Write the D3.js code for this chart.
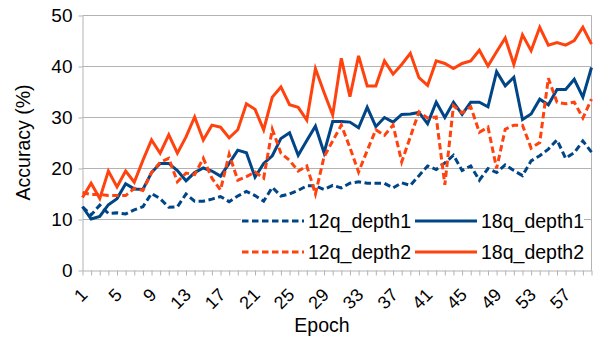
<!DOCTYPE html>
<html><head><meta charset="utf-8">
<script src="https://cdn.jsdelivr.net/npm/d3@7"></script>
<style>
html,body{margin:0;padding:0;background:#fff;}
svg{display:block;font-family:"Liberation Sans",Arial,sans-serif;}
</style></head>
<body><svg id="c" width="605" height="340"></svg>
<script>
const epochs = [1,2,3,4,5,6,7,8,9,10,11,12,13,14,15,16,17,18,19,20,21,22,23,24,25,26,27,28,29,30,31,32,33,34,35,36,37,38,39,40,41,42,43,44,45,46,47,48,49,50,51,52,53,54,55,56,57,58,59,60];
const xTickLabels = [1,5,9,13,17,21,25,29,33,37,41,45,49,53,57];
const yTicks = [0,10,20,30,40,50];
const seriesNames = ["12q_depth1","18q_depth1","12q_depth2","18q_depth2"];
const q12_depth1 = [12.4,10.8,12.7,11.1,11.2,11.0,11.8,12.4,15.0,14.0,12.3,12.4,14.9,13.5,13.5,13.9,14.4,13.4,14.5,15.4,14.6,13.5,16.2,14.5,14.9,15.6,16.5,16.5,15.8,16.6,16.1,17.0,17.3,17.0,17.0,17.0,16.1,17.1,16.6,18.5,20.4,19.7,21.0,22.5,19.5,20.4,17.6,19.9,19.1,20.6,19.5,18.5,21.4,22.4,23.7,25.5,21.9,23.0,25.3,23.1];
const q18_depth1 = [12.4,10.0,10.5,12.8,14.0,16.9,15.9,15.8,19.1,20.9,20.9,19.5,17.5,19.1,20.0,19.4,18.4,20.9,23.5,23.0,18.2,20.9,22.4,25.8,26.9,22.5,25.4,28.2,23.0,29.1,29.1,29.0,27.9,31.9,28.1,29.9,29.0,30.5,30.6,30.9,28.7,32.9,29.9,32.9,30.5,32.9,32.9,32.0,38.9,36.1,37.8,29.5,30.6,33.5,32.4,35.4,35.4,37.4,33.9,39.7];
const q12_depth2 = [15.2,14.8,14.8,14.6,14.6,14.6,16.0,15.6,19.1,21.1,21.9,17.3,19.0,18.7,21.9,18.0,15.7,22.7,17.6,18.3,19.2,18.0,27.6,22.9,21.5,19.4,20.4,14.9,22.2,25.3,28.4,24.0,19.2,23.4,27.5,26.4,28.4,21.2,26.1,31.0,29.8,30.0,16.7,32.2,30.8,32.0,27.0,28.0,19.9,27.6,28.4,28.4,23.9,25.0,37.6,32.9,32.6,32.9,29.8,33.5];
const q18_depth2 = [14.2,17.0,14.0,19.4,16.3,19.4,17.2,21.5,25.5,22.9,26.5,22.9,26.1,30.0,25.5,28.4,28.0,25.9,27.5,32.6,31.5,27.5,33.9,35.9,32.4,31.9,29.4,39.5,34.8,30.4,41.5,34.0,42.0,36.1,36.1,41.0,38.4,40.3,42.5,37.7,36.2,41.0,40.5,39.5,40.5,41.0,43.1,40.0,42.8,45.5,40.3,46.1,43.0,47.6,44.1,44.6,44.1,45.0,47.6,44.3];

const seriesValues = [q12_depth1, q18_depth1, q12_depth2, q18_depth2];
const seriesColor = ["#004586","#004586","#ff420e","#ff420e"];
const seriesDash = ["6.5,3.5",null,"6.5,3.5",null];

const svg = d3.select("#c");
const L = 82.5, R = 591.5, T = 15, B = 270;
const x = d3.scalePoint().domain(epochs).range([L, R]);
const y = d3.scaleLinear().domain([0,50]).range([B, T]);
const grid = "#b3b3b3";

// gridlines
svg.append("g").selectAll("line").data(yTicks.filter(d=>d>0)).join("line")
  .attr("x1", L).attr("x2", R)
  .attr("y1", d=>Math.round(y(d))+0.5).attr("y2", d=>Math.round(y(d))+0.5)
  .attr("stroke", grid).attr("stroke-width",1);
// right border
svg.append("line").attr("x1",R).attr("x2",R).attr("y1",Math.round(T)+0.5).attr("y2",B+0.5)
  .attr("stroke",grid);

// y axis
const yAxis = svg.append("g").attr("transform",`translate(${L},0.5)`)
  .call(d3.axisLeft(y).tickValues(yTicks).tickSize(4).tickPadding(6).tickSizeOuter(0));
yAxis.select(".domain").attr("stroke",grid);
yAxis.selectAll(".tick line").attr("stroke",grid);
yAxis.selectAll("text").attr("font-size",19).attr("fill","#000")
  .attr("font-family","'Liberation Sans',Arial,sans-serif");

// x axis
const xAxis = svg.append("g").attr("transform",`translate(0,${B+0.5})`)
  .call(d3.axisBottom(x).tickValues(epochs).tickSize(5).tickSizeOuter(0)
    .tickFormat(d => xTickLabels.includes(d) ? String(d) : ""));
xAxis.select(".domain").attr("stroke",grid);
xAxis.selectAll(".tick line").attr("stroke",grid);
xAxis.selectAll(".tick text")
  .attr("font-size",18).attr("fill","#000")
  .attr("font-family","'Liberation Sans',Arial,sans-serif")
  .attr("text-anchor","end").attr("y",0).attr("dy","0.35em")
  .attr("transform","translate(1,21) rotate(-45)");

// lines
const line = d3.line().x((d,i)=>x(epochs[i])).y(d=>y(d));
seriesValues.forEach((vals, k) => {
  svg.append("path").datum(vals)
    .attr("d", line).attr("fill","none")
    .attr("stroke", seriesColor[k]).attr("stroke-width",3)
    .attr("stroke-linejoin","miter").attr("stroke-linecap","butt")
    .attr("stroke-dasharray", seriesDash[k]);
});

// legend
const lg = svg.append("g");
lg.append("rect").attr("x",241).attr("y",205).attr("width",343).attr("height",62).attr("fill","#fff");
const legPos = [[242,221],[415,221],[242,252],[415,252]];
seriesNames.forEach((n,k)=>{
  const [lx,ly] = legPos[k];
  lg.append("line").attr("x1",lx).attr("x2",lx+62).attr("y1",ly).attr("y2",ly)
    .attr("stroke",seriesColor[k]).attr("stroke-width",3)
    .attr("stroke-dasharray",seriesDash[k]);
  lg.append("text").attr("x",lx+66).attr("y",ly).attr("dy","0.35em")
    .attr("font-size",19.5).attr("fill","#000").text(n);
});

// axis titles
svg.append("text").attr("transform","translate(23,142.5) rotate(-90)")
  .attr("text-anchor","middle").attr("dy","0.35em").attr("font-size",19.5).text("Accuracy (%)");
svg.append("text").attr("x",322).attr("y",325).attr("text-anchor","middle").attr("dy","0.35em")
  .attr("font-size",19.5).text("Epoch");
</script></body></html>
